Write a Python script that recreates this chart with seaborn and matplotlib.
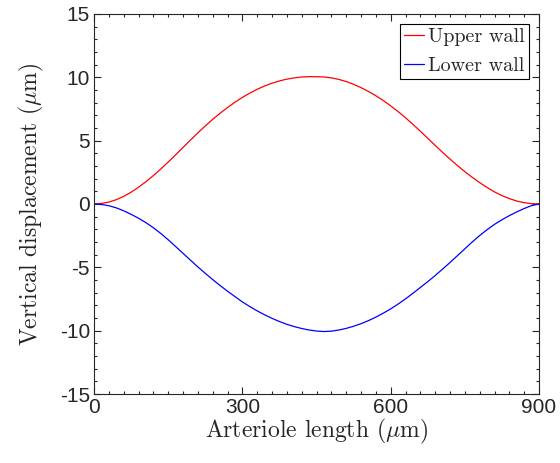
import numpy as np
import pandas as pd
import seaborn as sns
import matplotlib.pyplot as plt
from matplotlib.ticker import MultipleLocator

# positions along the arteriole (um), read every 15 um
length = list(range(0, 901, 15))

upper_wall = [0, 0.04, 0.15, 0.34, 0.60, 0.93, 1.32, 1.76, 2.24, 2.76, 3.31, 3.88, 4.46, 5.04, 5.61,
              6.16, 6.68, 7.16, 7.61, 8.03, 8.41, 8.75, 9.05, 9.31, 9.53, 9.71, 9.85, 9.95, 10.02, 10.05,
              10.04, 10.02, 9.95, 9.83, 9.66, 9.44, 9.18, 8.88, 8.54, 8.16, 7.74, 7.29, 6.80, 6.28, 5.74,
              5.18, 4.62, 4.07, 3.54, 3.03, 2.55, 2.10, 1.68, 1.30, 0.95, 0.66, 0.42, 0.23, 0.10, 0.02, 0]

lower_wall = [0, -0.04, -0.14, -0.31, -0.54, -0.82, -1.13, -1.48, -1.88, -2.33, -2.83, -3.36, -3.90, -4.44, -4.97,
              -5.48, -5.97, -6.44, -6.89, -7.31, -7.73, -8.10, -8.44, -8.75, -9.03, -9.28, -9.50, -9.68, -9.83, -9.95,
              -10.03, -10.07, -10.04, -9.95, -9.82, -9.65, -9.45, -9.21, -8.93, -8.62, -8.28, -7.90, -7.49, -7.05, -6.59,
              -6.13, -5.65, -5.14, -4.62, -4.08, -3.54, -3.00, -2.49, -2.03, -1.61, -1.25, -0.92, -0.63, -0.36, -0.13, 0]

series_names = ["Upper wall", "Lower wall"]
colors = ["#ff0000", "#0000ff"]
ytick_labels = ["-15", "-10", "-5", "0", "5", "10", "15"]


def main():
    df = pd.DataFrame({
        "x": length * 2,
        "y": upper_wall + lower_wall,
        "wall": [series_names[0]] * len(length) + [series_names[1]] * len(length),
    })

    sns.set_style("ticks")
    plt.rcParams["mathtext.fontset"] = "cm"
    plt.rcParams["font.family"] = ["Liberation Sans", "DejaVu Sans"]

    fig = plt.figure(figsize=(5.6, 4.63), dpi=100)
    ax = fig.add_axes([0.168, 0.149, 0.7945, 0.821])

    sns.lineplot(data=df, x="x", y="y", hue="wall", palette=colors,
                 linewidth=0.9, ax=ax, sort=False)

    ax.set_xlim(0, 900)
    ax.set_ylim(-15, 15)
    ax.xaxis.set_major_locator(MultipleLocator(300))
    ax.xaxis.set_minor_locator(MultipleLocator(30))
    ax.yaxis.set_minor_locator(MultipleLocator(1))
    ax.set_yticks([-15, -10, -5, 0, 5, 10, 15])
    ax.set_yticklabels(ytick_labels)

    ax.tick_params(which="both", direction="in", top=True, right=True,
                   colors="#262626", labelsize=15, width=0.8)
    ax.tick_params(which="major", length=5, pad=3)
    ax.tick_params(which="minor", length=2.5)
    for s in ax.spines.values():
        s.set_color("#262626")
        s.set_linewidth(0.8)
        s.set_visible(True)

    ax.set_xlabel(r"Arteriole length ($\mu$m)", fontfamily="cmr10", fontsize=17, labelpad=0)
    ax.set_ylabel(r"Vertical displacement ($\mu$m)", fontfamily="cmr10", fontsize=17, labelpad=10)

    leg = ax.legend(loc="upper right", frameon=True, fancybox=False, handlelength=1.0,
                    handletextpad=0.2, borderpad=0.2, labelspacing=0.55,
                    borderaxespad=0.5, prop={"family": "cmr10", "size": 14.5})
    leg.get_frame().set_edgecolor("black")
    leg.get_frame().set_linewidth(0.8)
    leg.get_frame().set_alpha(1)
    leg.set_title(None)

    fig.savefig("out.png", dpi=100)
    plt.close(fig)


if __name__ == "__main__":
    main()
